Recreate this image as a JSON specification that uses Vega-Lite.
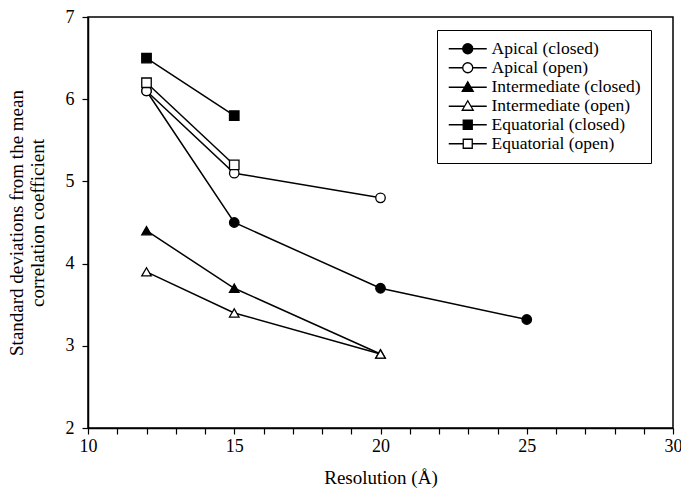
{
  "$schema": "https://vega.github.io/schema/vega-lite/v6.json",
  "autosize": "none",
  "width": 585,
  "height": 411,
  "padding": {"left": 88, "top": 17, "right": 8, "bottom": 62},
  "background": "white",
  "config": {
    "font": "Liberation Serif",
    "view": {"stroke": "black", "strokeWidth": 1.5},
    "axis": {
      "grid": false,
      "domainColor": "black",
      "domainWidth": 1.5,
      "tickColor": "black",
      "tickWidth": 1.2,
      "tickSize": 6,
      "labelFont": "Liberation Serif",
      "labelFontSize": 18,
      "labelColor": "black",
      "titleFont": "Liberation Serif",
      "titleFontSize": 19,
      "titleFontWeight": "normal",
      "titleColor": "black"
    },
    "legend": {
      "labelFont": "Liberation Serif",
      "labelFontSize": 17.5,
      "labelColor": "black"
    }
  },
  "data": {
    "values": [
      {"series": "Apical (closed)", "res": 12, "sd": 6.1},
      {"series": "Apical (closed)", "res": 15, "sd": 4.5},
      {"series": "Apical (closed)", "res": 20, "sd": 3.7},
      {"series": "Apical (closed)", "res": 25, "sd": 3.32},
      {"series": "Apical (open)", "res": 12, "sd": 6.1},
      {"series": "Apical (open)", "res": 15, "sd": 5.1},
      {"series": "Apical (open)", "res": 20, "sd": 4.8},
      {"series": "Intermediate (closed)", "res": 12, "sd": 4.4},
      {"series": "Intermediate (closed)", "res": 15, "sd": 3.7},
      {"series": "Intermediate (closed)", "res": 20, "sd": 2.9},
      {"series": "Intermediate (open)", "res": 12, "sd": 3.9},
      {"series": "Intermediate (open)", "res": 15, "sd": 3.4},
      {"series": "Intermediate (open)", "res": 20, "sd": 2.9},
      {"series": "Equatorial (closed)", "res": 12, "sd": 6.5},
      {"series": "Equatorial (closed)", "res": 15, "sd": 5.8},
      {"series": "Equatorial (open)", "res": 12, "sd": 6.2},
      {"series": "Equatorial (open)", "res": 15, "sd": 5.2}
    ]
  },
  "encoding": {
    "x": {
      "field": "res",
      "type": "quantitative",
      "scale": {"domain": [10, 30], "nice": false, "zero": false},
      "axis": {
        "title": "Resolution (Å)",
        "values": [10,11,12,13,14,15,16,17,18,19,20,21,22,23,24,25,26,27,28,29,30],
        "labelExpr": "datum.value % 5 === 0 ? datum.label : ''",
        "labelPadding": 3,
        "titlePadding": 13,
        "labelFlush": false
      }
    },
    "y": {
      "field": "sd",
      "type": "quantitative",
      "scale": {"domain": [2, 7], "nice": false, "zero": false},
      "axis": {
        "title": ["Standard deviations from the mean", "correlation coefficient"],
        "values": [2, 3, 4, 5, 6, 7],
        "labelPadding": 8,
        "titlePadding": 18
      }
    }
  },
  "layer": [
    {
      "mark": {"type": "line", "color": "black", "strokeWidth": 1.5},
      "encoding": {
        "detail": {"field": "series", "type": "nominal"},
        "order": {"field": "res", "type": "quantitative"}
      }
    },
    {
      "mark": {"type": "point", "stroke": "black", "strokeWidth": 1.3, "opacity": 1, "size": 90},
      "encoding": {
        "shape": {
          "field": "series",
          "type": "nominal",
          "scale": {
            "domain": ["Apical (closed)", "Apical (open)", "Intermediate (closed)", "Intermediate (open)", "Equatorial (closed)", "Equatorial (open)"],
            "range": ["circle", "circle", "triangle-up", "triangle-up", "square", "square"]
          },
          "legend": null
        },
        "fill": {
          "field": "series",
          "type": "nominal",
          "scale": {
            "domain": ["Apical (closed)", "Apical (open)", "Intermediate (closed)", "Intermediate (open)", "Equatorial (closed)", "Equatorial (open)"],
            "range": ["black", "white", "black", "white", "black", "white"]
          },
          "legend": null
        }
      }
    },
    {
      "mark": {"type": "point", "stroke": "black", "strokeWidth": 1.3, "opacity": 0, "size": 100},
      "encoding": {
        "shape": {
          "field": "series",
          "type": "nominal",
          "title": null,
          "scale": {
            "domain": ["Apical (closed)", "Apical (open)", "Intermediate (closed)", "Intermediate (open)", "Equatorial (closed)", "Equatorial (open)"],
            "range": [
              "M-1,0A1,1 0 1,0 1,0A1,1 0 1,0 -1,0Z M-3.8,0H-1 M1,0H3.8",
              "M-1,0A1,1 0 1,0 1,0A1,1 0 1,0 -1,0Z M-3.8,0H-1 M1,0H3.8",
              "M0,-1L1.1,0.9L-1.1,0.9Z M-3.8,0.1H-0.55 M0.55,0.1H3.8",
              "M0,-1L1.1,0.9L-1.1,0.9Z M-3.8,0.1H-0.55 M0.55,0.1H3.8",
              "M-0.9,-0.9H0.9V0.9H-0.9Z M-3.8,0H-0.9 M0.9,0H3.8",
              "M-0.9,-0.9H0.9V0.9H-0.9Z M-3.8,0H-0.9 M0.9,0H3.8"
            ]
          },
          "legend": {
            "orient": "none",
            "legendX": 349,
            "legendY": 13,
            "strokeColor": "black",
            "fillColor": "white",
            "padding": 10,
            "rowPadding": 0,
            "symbolOpacity": 1,
            "symbolStrokeColor": "black",
            "symbolStrokeWidth": 1.3,
            "symbolSize": 100,
            "symbolOffset": 12,
            "labelOffset": 15,
            "encode": {"symbols": {"update": {"stroke": {"value": "black"}, "strokeWidth": {"value": 1.3}, "opacity": {"value": 1}}}}
          }
        },
        "fill": {
          "field": "series",
          "type": "nominal",
          "title": null,
          "scale": {
            "domain": ["Apical (closed)", "Apical (open)", "Intermediate (closed)", "Intermediate (open)", "Equatorial (closed)", "Equatorial (open)"],
            "range": ["black", "white", "black", "white", "black", "white"]
          },
          "legend": {
            "orient": "none",
            "legendX": 349,
            "legendY": 13,
            "strokeColor": "black",
            "fillColor": "white",
            "padding": 10,
            "rowPadding": 0,
            "symbolOpacity": 1,
            "symbolStrokeColor": "black",
            "symbolStrokeWidth": 1.3,
            "symbolSize": 100,
            "symbolOffset": 12,
            "labelOffset": 15,
            "encode": {"symbols": {"update": {"stroke": {"value": "black"}, "strokeWidth": {"value": 1.3}, "opacity": {"value": 1}}}}
          }
        }
      }
    }
  ],
  "resolve": {"scale": {"shape": "independent", "fill": "independent"}, "legend": {"shape": "independent", "fill": "independent"}}
}
